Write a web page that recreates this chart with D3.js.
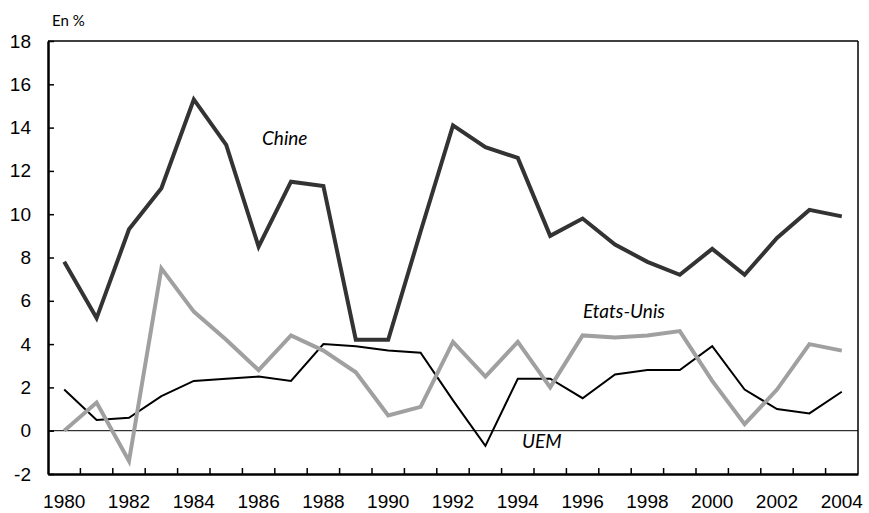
<!DOCTYPE html>
<html>
<head>
<meta charset="utf-8">
<script src="https://cdn.jsdelivr.net/npm/d3@7"></script>
<style>
  body { margin: 0; background: #fff; }
  svg { display: block; font-family: Lato, "Open Sans", sans-serif; }
</style>
</head>
<body>
<script>
var years = d3.range(1980, 2005);
var chine = [7.8, 5.2, 9.3, 11.2, 15.3, 13.2, 8.5, 11.5, 11.3, 4.2, 4.2, 9.2, 14.1, 13.1, 12.6, 9.0, 9.8, 8.6, 7.8, 7.2, 8.4, 7.2, 8.9, 10.2, 9.9];
var etatsUnis = [0.0, 1.3, -1.4, 7.5, 5.5, 4.2, 2.8, 4.4, 3.7, 2.7, 0.7, 1.1, 4.1, 2.5, 4.1, 2.0, 4.4, 4.3, 4.4, 4.6, 2.3, 0.3, 1.9, 4.0, 3.7];
var uem = [1.9, 0.5, 0.6, 1.6, 2.3, 2.4, 2.5, 2.3, 4.0, 3.9, 3.7, 3.6, 1.4, -0.7, 2.4, 2.4, 1.5, 2.6, 2.8, 2.8, 3.9, 1.9, 1.0, 0.8, 1.8];
var yTicks = [-2, 0, 2, 4, 6, 8, 10, 12, 14, 16, 18];
var xLabels = d3.range(1980, 2005, 2);

function chart() {
    var width = 869, height = 513;
    var mLeft = 48, mRight = 858, mTop = 41, mBottom = 474;

    var svg = d3.select("body").append("svg")
        .attr("width", width)
        .attr("height", height);

    var x = d3.scaleBand().domain(years).range([mLeft, mRight]).padding(0);
    var y = d3.scaleLinear().domain([-2, 18]).range([mBottom, mTop]);
    var cx = d => x(d) + x.bandwidth() / 2;

    // frame: top and right
    svg.append("line").attr("x1", mLeft).attr("x2", mRight).attr("y1", mTop).attr("y2", mTop)
        .attr("stroke", "#000").attr("stroke-width", 1.5);
    svg.append("line").attr("x1", mRight).attr("x2", mRight).attr("y1", mTop).attr("y2", mBottom)
        .attr("stroke", "#000").attr("stroke-width", 1.5);

    // zero line
    svg.append("line").attr("x1", mLeft).attr("x2", mRight).attr("y1", y(0)).attr("y2", y(0))
        .attr("stroke", "#000").attr("stroke-width", 1);

    // y axis
    var yAxis = svg.append("g")
        .attr("transform", "translate(" + mLeft + ",0)")
        .call(d3.axisLeft(y).tickValues(yTicks).tickSize(-6).tickPadding(17).tickSizeOuter(0).tickFormat(d => String(d)));
    yAxis.select(".domain").attr("stroke-width", 2.5);
    yAxis.selectAll(".tick line").attr("stroke-width", 1.5);
    yAxis.selectAll("text").style("font-size", "19px").attr("fill", "#000");

    // x axis: tick marks at year boundaries, labels every 2 years
    var xAxis = svg.append("g")
        .attr("transform", "translate(0," + mBottom + ")")
        .call(d3.axisBottom(x).tickValues(xLabels).tickSize(0).tickPadding(21).tickSizeOuter(0));
    xAxis.select(".domain").attr("stroke-width", 2.5);
    xAxis.selectAll("text").style("font-size", "19px").attr("fill", "#000");
    xAxis.selectAll(".xb")
        .data(years.slice(1))
        .join("line")
        .attr("x1", d => x(d))
        .attr("x2", d => x(d))
        .attr("y1", 0).attr("y2", -6)
        .attr("stroke", "#000").attr("stroke-width", 1.5);

    var line = d3.line().x((d, i) => cx(years[i])).y(d => y(d));

    svg.append("path").datum(uem).attr("d", line)
        .attr("fill", "none").attr("stroke", "#000").attr("stroke-width", 2);
    svg.append("path").datum(etatsUnis).attr("d", line)
        .attr("fill", "none").attr("stroke", "#a0a0a0").attr("stroke-width", 4);
    svg.append("path").datum(chine).attr("d", line)
        .attr("fill", "none").attr("stroke", "#333").attr("stroke-width", 4);

    // labels
    svg.append("text").attr("x", 52).attr("y", 26).style("font-size", "15px").text("En %");

    var seriesLabels = [
        {text: "Chine", x: 262, y: 145},
        {text: "Etats-Unis", x: 583, y: 318},
        {text: "UEM", x: 522, y: 448}
    ];
    svg.selectAll(".lab")
        .data(seriesLabels)
        .join("text")
        .attr("x", d => d.x)
        .attr("y", d => d.y)
        .style("font-size", "19px")
        .style("font-style", "italic")
        .text(d => d.text);
}

chart();
</script>
</body>
</html>
